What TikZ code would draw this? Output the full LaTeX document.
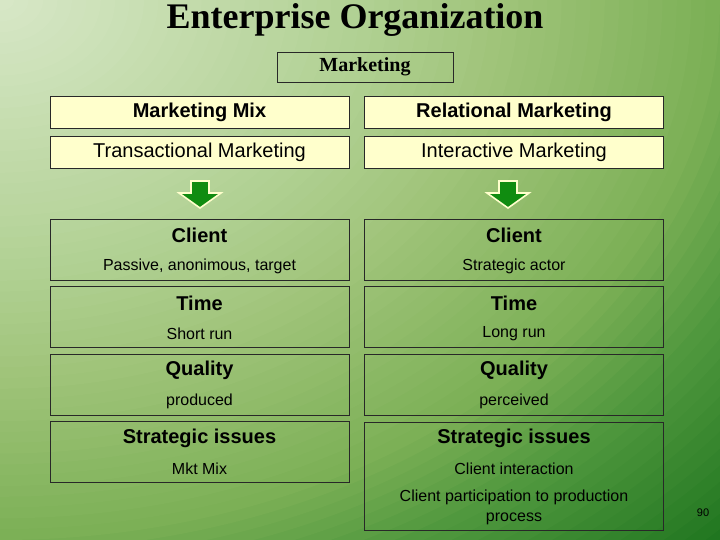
\documentclass[tikz,border=0pt]{standalone}
\usepackage{fontspec}
\setmainfont{Liberation Sans}
\newfontfamily\titlefont{Liberation Serif}
\definecolor{bgA}{RGB}{216,232,200}
\definecolor{bgB}{RGB}{176,208,146}
\definecolor{bgC}{RGB}{160,196,122}
\definecolor{bgD}{RGB}{124,176,86}
\definecolor{bgE}{RGB}{80,152,62}
\definecolor{bgF}{RGB}{32,118,32}
\definecolor{paleyellow}{RGB}{255,255,204}
\definecolor{arrowgreen}{RGB}{16,140,16}
\definecolor{boxline}{RGB}{40,40,40}
\begin{document}
\begin{tikzpicture}[x=1pt,y=-1pt,
  box/.style={draw=boxline,line width=0.8pt,rectangle,inner sep=0pt,minimum width=299pt},
  ybox/.style={box,fill=paleyellow,minimum height=32pt},
  tallbox/.style={box,minimum height=61pt},
  head/.style={font=\fontsize{20}{24}\selectfont\bfseries,inner sep=0pt},
  sub/.style={font=\fontsize{16}{20}\selectfont,inner sep=0pt,align=center},
  plain/.style={font=\fontsize{20}{24}\selectfont,inner sep=0pt},
  blockarrow/.style={fill=arrowgreen,draw=paleyellow,line width=1.6pt,line join=miter}
]
% background: elliptical gradient from the top-left corner
\begin{scope}
\clip (0,0) rectangle (720,540);
\fill[bgF] (0,0) rectangle (720,540);
\foreach \i in {72,71,...,1}{
  \ifnum\i>58
    \pgfmathtruncatemacro\p{min(100,(\i-58)*100/13)}\colorlet{cur}{bgF!\p!bgE}
  \else\ifnum\i>50
    \pgfmathtruncatemacro\p{(\i-50)*100/8}\colorlet{cur}{bgE!\p!bgD}
  \else\ifnum\i>35
    \pgfmathtruncatemacro\p{(\i-35)*100/15}\colorlet{cur}{bgD!\p!bgC}
  \else\ifnum\i>26
    \pgfmathtruncatemacro\p{(\i-26)*100/9}\colorlet{cur}{bgC!\p!bgB}
  \else
    \pgfmathtruncatemacro\p{\i*100/26}\colorlet{cur}{bgB!\p!bgA}
  \fi\fi\fi\fi
  \fill[cur] (0,0) ellipse [x radius=\i*14.4, y radius=\i*10.8];
}
\end{scope}
\useasboundingbox (0,0) rectangle (720,540);

\node[font=\titlefont\fontsize{36}{40}\selectfont\bfseries,inner sep=0pt] (title) at (355,20) {Enterprise Organization};
\node[draw=boxline,line width=0.8pt,minimum width=176pt,minimum height=30pt,inner sep=0pt,
      font=\titlefont\fontsize{20}{24}\selectfont\bfseries] (mkt) at (365,67) {Marketing};

\node[ybox] (mix) at (199.5,112) {};
\node[head] (mixt) at (mix.center) {Marketing Mix};
\node[ybox] (rel) at (514,112) {};
\node[head] (relt) at (rel.center) {Relational Marketing};
\node[ybox] (tra) at (199.5,152) {};
\node[plain] (trat) at (tra.center) {Transactional Marketing};
\node[ybox] (int) at (514,152) {};
\node[plain] (intt) at (int.center) {Interactive Marketing};

% arrows
\foreach \cx in {200,508}{
  \draw[blockarrow] (\cx-9,181) -- (\cx+9,181) -- (\cx+9,193) -- (\cx+21,193) -- (\cx,208)
     -- (\cx-21,193) -- (\cx-9,193) -- cycle;
}

% left column
\node[tallbox] (lc) at (199.5,249.5) {};
\node[head] at (199.5,235) {Client};
\node[sub] at (199.5,266) {Passive, anonimous, target};
\node[tallbox] (lt) at (199.5,317) {};
\node[head] at (199.5,303) {Time};
\node[sub] at (199.5,334) {Short run};
\node[tallbox] (lq) at (199.5,384.5) {};
\node[head] at (199.5,370) {Quality};
\node[sub] at (199.5,401) {produced};
\node[tallbox] (ls) at (199.5,452) {};
\node[head] at (199.5,438) {Strategic issues};
\node[sub] at (199.5,469) {Mkt Mix};

% right column
\node[tallbox] (rc) at (514,249.5) {};
\node[head] at (514,235) {Client};
\node[sub] at (514,266) {Strategic actor};
\node[tallbox] (rt) at (514,317) {};
\node[head] at (514,303) {Time};
\node[sub] at (514,334) {Long run};
\node[tallbox] (rq) at (514,384.5) {};
\node[head] at (514,370) {Quality};
\node[sub] at (514,401) {perceived};
\node[box,minimum height=108pt] (rs) at (514,476) {};
\node[head] at (514,438) {Strategic issues};
\node[sub] at (514,469) {Client interaction};
\node[sub] at (514,507) {Client participation to production\\process};

\node[font=\fontsize{11}{13}\selectfont,inner sep=0pt] (pg) at (703,513) {90};
\end{tikzpicture}
\end{document}
